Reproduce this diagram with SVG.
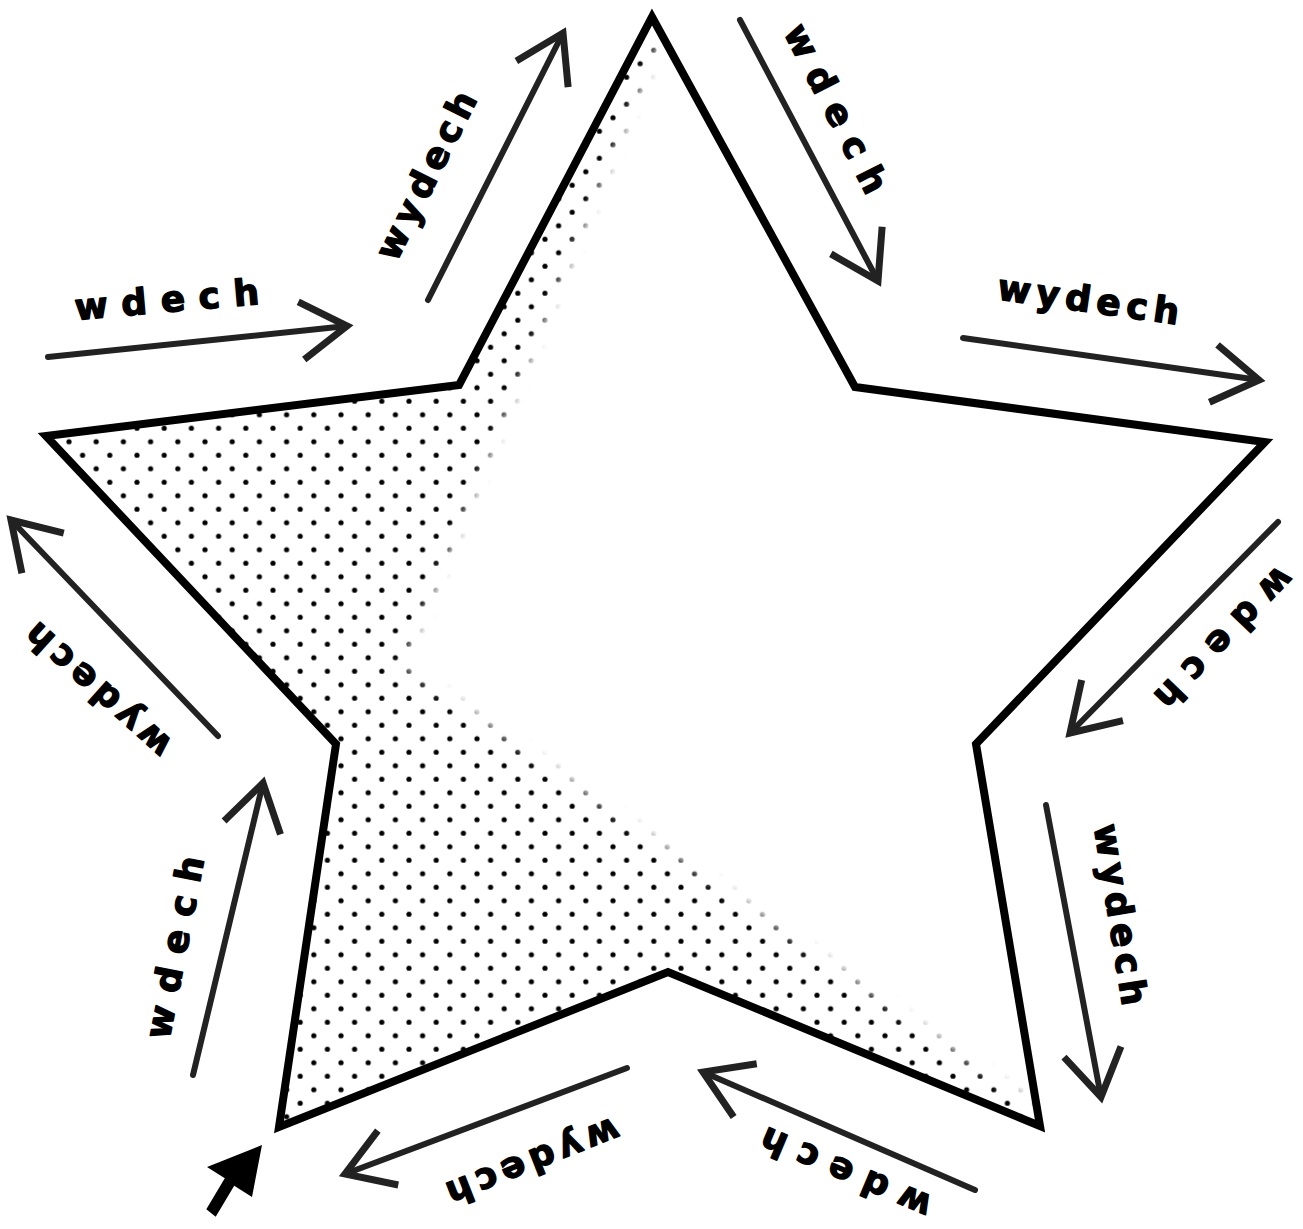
<svg xmlns="http://www.w3.org/2000/svg" width="1303" height="1229" viewBox="0 0 1303 1229">
  <style>
    .arr { fill: none; stroke: #222; stroke-width: 6; stroke-linecap: round; marker-end: url(#chev); }
    .lbl { font-family: "DejaVu Sans", "Liberation Sans", sans-serif; font-weight: bold; font-size: 36px; fill: #000; stroke: #000; stroke-width: 1.4; stroke-linejoin: round; text-anchor: middle; }
    .star { fill: none; stroke: #000; stroke-width: 8; stroke-linejoin: miter; stroke-miterlimit: 20; }
  </style>
  <defs>
    <marker id="chev" markerUnits="userSpaceOnUse" viewBox="-60 -40 70 80" refX="0" refY="0" markerWidth="70" markerHeight="80" orient="auto">
      <path d="M-46,-29 L0,0 L-46,29" fill="none" stroke="#222" stroke-width="7" stroke-linejoin="miter"/>
    </marker>
    <pattern id="dots" patternUnits="userSpaceOnUse" x="69" y="441.7" width="27.2" height="27">
      <circle cx="0" cy="0" r="2.6" fill="#000"/>
      <circle cx="27.2" cy="0" r="2.6" fill="#000"/>
      <circle cx="0" cy="27" r="2.6" fill="#000"/>
      <circle cx="27.2" cy="27" r="2.6" fill="#000"/>
      <circle cx="13.6" cy="13.5" r="2.6" fill="#000"/>
    </pattern>
    <clipPath id="starClip">
      <path d="M652,17 L855,387 L1265,442 L976,744 L1040,1126 L668,972 L279,1127 L336,744 L46,436 L459,385 Z"/>
    </clipPath>
    <filter id="soft" filterUnits="userSpaceOnUse" x="0" y="0" width="1303" height="1229">
      <feGaussianBlur stdDeviation="6"/>
    </filter>
    <mask id="fade" maskUnits="userSpaceOnUse" x="0" y="0" width="1303" height="1229">
      <polygon points="676,0 402,665 1064,1128 1100,1229 0,1229 0,0" fill="#fff" filter="url(#soft)"/>
    </mask>
  </defs>

  <rect x="0" y="0" width="1303" height="1229" fill="#fff"/>

  <g id="shading" clip-path="url(#starClip)">
    <rect x="0" y="0" width="1303" height="1229" fill="url(#dots)" mask="url(#fade)"/>
  </g>

  <g id="star">
    <path class="star" d="M652,17 L855,387 L1265,442 L976,744 L1040,1126 L668,972 L279,1127 L336,744 L46,436 L459,385 Z"/>
  </g>

  <g id="start-pointer">
    <polygon points="262,1145 252,1197 234.2,1185.8 215.7,1216.8 206.3,1209.2 224.8,1178.2 207,1167" fill="#000"/>
  </g>

  <g id="connectors">
    <path class="arr" d="M48,357 L347,326"/>
    <path class="arr" d="M428,300 L563,33"/>
    <path class="arr" d="M740,20 L878,281"/>
    <path class="arr" d="M963,338 L1259,380"/>
    <path class="arr" d="M1278,522 L1070,733"/>
    <path class="arr" d="M1046,805 L1101,1097"/>
    <path class="arr" d="M975,1190 L703,1072"/>
    <path class="arr" d="M627,1068 L345,1174"/>
    <path class="arr" d="M193,1075 L263,783"/>
    <path class="arr" d="M218,736 L11,520"/>
  </g>

  <g id="labels">
    <g id="label-1"><text class="lbl" transform="translate(167,303) rotate(-5)" y="9" textLength="185" lengthAdjust="spacing">wdech</text></g>
    <g id="label-2"><text class="lbl" transform="translate(429,177) rotate(-63.5)" y="9" textLength="183" lengthAdjust="spacing">wydech</text></g>
    <g id="label-3"><text class="lbl" transform="translate(833,110) rotate(63)" y="9" textLength="185" lengthAdjust="spacing">wdech</text></g>
    <g id="label-4"><text class="lbl" transform="translate(1088,303) rotate(8)" y="9" textLength="183" lengthAdjust="spacing">wydech</text></g>
    <g id="label-5"><text class="lbl" transform="translate(1222,636) rotate(134)" y="9" textLength="182" lengthAdjust="spacing">wdech</text></g>
    <g id="label-6"><text class="lbl" transform="translate(1117,915) rotate(81)" y="9" textLength="183" lengthAdjust="spacing">wydech</text></g>
    <g id="label-7"><text class="lbl" transform="translate(847,1170) rotate(203)" y="9" textLength="182" lengthAdjust="spacing">wdech</text></g>
    <g id="label-8"><text class="lbl" transform="translate(532,1159) rotate(158.5)" y="9" textLength="183" lengthAdjust="spacing">wydech</text></g>
    <g id="label-9"><text class="lbl" transform="translate(178,948) rotate(-79)" y="9" textLength="185" lengthAdjust="spacing">wdech</text></g>
    <g id="label-10"><text class="lbl" transform="translate(100,688) rotate(222)" y="9" textLength="183" lengthAdjust="spacing">wydech</text></g>
  </g>
</svg>
